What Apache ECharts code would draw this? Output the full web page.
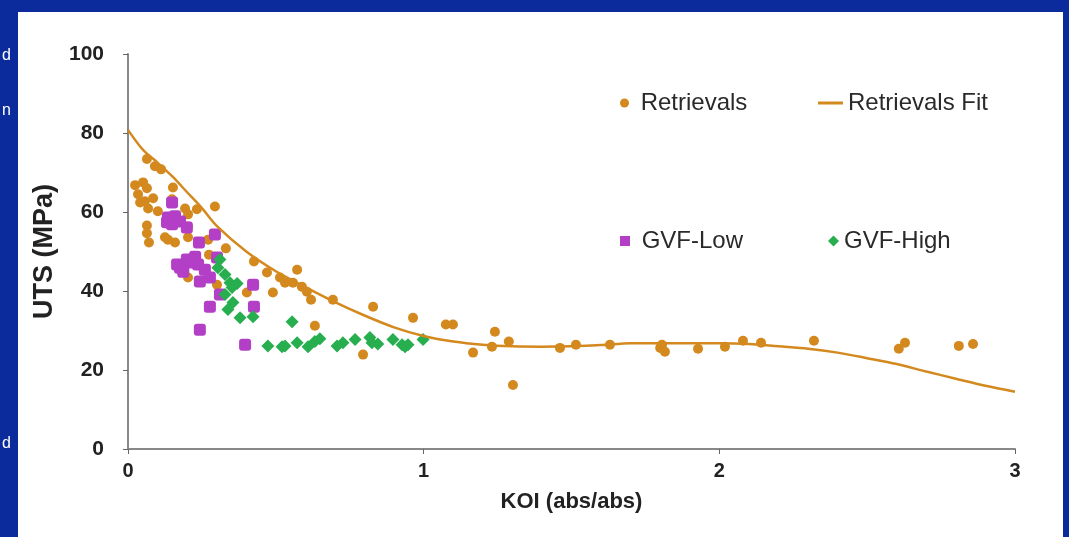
<!DOCTYPE html>
<html>
<head>
<meta charset="utf-8">
<script src="https://cdn.jsdelivr.net/npm/echarts@6/dist/echarts.min.js"></script>
<style>
html,body{margin:0;padding:0;background:#0b2a9b;}
#chart{width:1069px;height:537px;}
</style>
</head>
<body>
<div id="chart"></div>
<script>
// ---- data ----
const xTicks = [0, 1, 2, 3];
const yTicks = [0, 20, 40, 60, 80, 100];

const retrievals = [
  [0.064,73.4],[0.091,71.6],[0.112,70.8],[0.152,66.2],[0.024,66.8],[0.051,67.5],
  [0.064,66.0],[0.034,64.5],[0.057,62.7],[0.085,63.5],[0.041,62.4],[0.068,60.9],
  [0.101,60.2],[0.064,56.6],[0.064,54.6],[0.071,52.3],[0.125,53.6],[0.149,63.2],
  [0.193,60.9],[0.203,59.4],[0.233,60.7],[0.294,61.4],[0.203,56.3],[0.203,53.6],
  [0.135,53.0],[0.159,52.3],[0.271,53.0],[0.331,50.8],[0.274,49.2],[0.301,41.6],
  [0.203,43.4],[0.402,39.6],[0.426,47.5],[0.470,44.7],[0.490,39.6],[0.514,43.4],
  [0.531,42.1],[0.572,45.4],[0.558,42.1],[0.588,41.1],[0.605,39.8],[0.619,37.8],
  [0.632,31.2],[0.693,37.8],[0.829,36.0],[0.964,33.2],[1.075,31.5],[1.099,31.5],
  [1.241,29.7],[1.167,24.4],[1.231,25.9],[1.288,27.2],[1.302,16.2],[0.795,23.9],
  [1.461,25.6],[1.515,26.4],[1.630,26.4],[1.806,26.4],[1.816,24.6],[1.800,25.6],
  [1.928,25.4],[2.019,25.9],[2.080,27.4],[2.141,26.9],[2.320,27.4],[2.607,25.4],
  [2.628,26.9],[2.810,26.1],[2.858,26.6]
];

const gvfLow = [
  [0.149,62.4],[0.135,58.6],[0.159,58.9],[0.149,56.9],[0.176,57.6],[0.132,57.4],
  [0.199,56.1],[0.294,54.3],[0.240,52.3],[0.166,46.7],[0.199,48.0],[0.227,48.7],
  [0.237,46.7],[0.176,45.9],[0.260,45.4],[0.243,42.4],[0.277,43.4],[0.301,48.5],
  [0.311,39.1],[0.423,41.6],[0.277,36.0],[0.426,36.0],[0.243,30.2],[0.396,26.4],
  [0.215,47.2],[0.187,44.9]
];

const gvfHigh = [
  [0.311,48.0],[0.304,45.9],[0.328,44.2],[0.345,42.1],[0.369,41.9],[0.352,40.9],
  [0.328,39.1],[0.355,37.1],[0.338,35.3],[0.379,33.2],[0.423,33.5],[0.555,32.2],
  [0.473,26.1],[0.521,25.9],[0.531,26.1],[0.572,26.9],[0.609,25.9],[0.632,27.2],
  [0.649,27.9],[0.707,26.1],[0.727,26.9],[0.768,27.7],[0.818,28.2],[0.825,26.9],
  [0.845,26.6],[0.896,27.7],[0.927,26.4],[0.937,25.9],[0.947,26.4],[0.998,27.7]
];

const fitX = [0,0.05,0.1,0.15,0.2,0.25,0.3,0.4,0.5,0.6,0.7,0.8,0.9,1.0,1.1,1.2,1.3,1.4,1.5,1.6,1.7,1.8,1.9,2.0,2.1,2.2,2.3,2.4,2.5,2.6,2.7,2.8,2.9,3.0];
const fitY = [80.8,75.8,72.5,69.0,65.0,61.0,56.5,50.0,45.0,41.0,37.2,33.8,30.8,28.6,27.2,26.4,26.0,25.9,26.0,26.3,26.8,26.8,26.8,26.8,26.6,26.0,25.4,24.4,23.0,21.5,19.6,17.8,16.0,14.5];

// ---- chart ----
const ORANGE = '#d4891e', PURPLE = '#b23fc6', GREEN = '#27ae4f';
const fitData = fitX.map((x, i) => [x, fitY[i]]);
const chart = echarts.init(document.getElementById('chart'), null, {renderer: 'canvas'});
const FONT = '"Liberation Sans", Arial, sans-serif';
const legendText = {fontFamily: FONT, fontSize: 24, color: '#2a2a2a'};

chart.setOption({
  backgroundColor: '#0b2a9b',
  animation: false,
  graphic: [
    {type: 'rect', z: -10, shape: {x: 18, y: 12, width: 1045, height: 530}, style: {fill: '#ffffff'}},
    {type: 'text', left: 2, top: 48, style: {text: 'd', fill: '#ffffff', font: '16px ' + FONT}},
    {type: 'text', left: 2, top: 103, style: {text: 'n', fill: '#ffffff', font: '16px ' + FONT}},
    {type: 'text', left: 2, top: 436, style: {text: 'd', fill: '#ffffff', font: '16px ' + FONT}}
  ],
  grid: {left: 128, right: 54, top: 54, bottom: 88, containLabel: false},
  legend: [
    {data: ['Retrievals'], left: 620, top: 91, padding: 0, icon: 'circle', itemWidth: 9, itemHeight: 9,
     formatter: ' {name}', textStyle: legendText},
    {data: ['Retrievals Fit'], left: 818, top: 91, padding: 0, icon: 'rect', itemWidth: 25, itemHeight: 3,
     itemGap: 0, textStyle: legendText},
    {data: ['GVF-Low'], left: 620, top: 229, padding: 0, icon: 'rect', itemWidth: 10, itemHeight: 10,
     formatter: ' {name}', textStyle: legendText},
    {data: ['GVF-High'], left: 828, top: 229, padding: 0, icon: 'diamond', itemWidth: 11, itemHeight: 11,
     textStyle: legendText}
  ],
  xAxis: {
    type: 'value', min: xTicks[0], max: xTicks[xTicks.length - 1], interval: 1,
    name: 'KOI (abs/abs)', nameLocation: 'middle', nameGap: 42,
    nameTextStyle: {fontFamily: FONT, fontSize: 22, fontWeight: 'bold', color: '#222'},
    axisLine: {show: true, lineStyle: {color: '#888', width: 2}},
    axisTick: {show: true, inside: false, length: 5, lineStyle: {color: '#666', width: 1}},
    splitLine: {show: false},
    axisLabel: {fontFamily: FONT, fontSize: 20, fontWeight: 'bold', color: '#222', margin: 12}
  },
  yAxis: {
    type: 'value', min: yTicks[0], max: yTicks[yTicks.length - 1], interval: 20,
    name: 'UTS (MPa)', nameLocation: 'middle', nameGap: 64, nameRotate: 90,
    nameTextStyle: {fontFamily: FONT, fontSize: 27, fontWeight: 'bold', color: '#222'},
    axisLine: {show: true, lineStyle: {color: '#888', width: 2}},
    axisTick: {show: true, inside: false, length: 5, lineStyle: {color: '#666', width: 1}},
    splitLine: {show: false},
    axisLabel: {fontFamily: FONT, fontSize: 21, fontWeight: 'bold', color: '#222', margin: 24}
  },
  series: [
    {name: 'Retrievals', type: 'scatter', data: retrievals, symbol: 'circle', symbolSize: 10,
     itemStyle: {color: ORANGE, opacity: 1}, z: 2},
    {name: 'GVF-Low', type: 'scatter', data: gvfLow, symbol: 'roundRect', symbolSize: 12,
     itemStyle: {color: PURPLE, opacity: 1}, z: 3},
    {name: 'GVF-High', type: 'scatter', data: gvfHigh, symbol: 'diamond', symbolSize: 13,
     itemStyle: {color: GREEN, opacity: 1}, z: 4},
    {name: 'Retrievals Fit', type: 'line', data: fitData, smooth: 0.3, symbol: 'none',
     lineStyle: {color: ORANGE, width: 2.5}, itemStyle: {color: ORANGE}, z: 5}
  ]
});
</script>
</body>
</html>
